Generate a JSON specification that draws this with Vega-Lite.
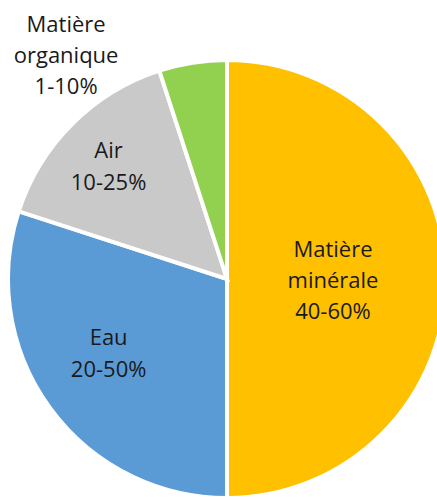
{
  "$schema": "https://vega.github.io/schema/vega-lite/v6.json",
  "width": 420,
  "height": 436,
  "autosize": {"type": "none"},
  "padding": {"left": 17, "top": 61, "right": 0, "bottom": 0},
  "background": "white",
  "config": {"view": {"stroke": null}},
  "data": {
    "values": [
      {"cat": "Matière minérale", "label": ["Matière", "minérale", "40-60%"], "v": 50, "o": 1},
      {"cat": "Eau", "label": ["Eau", "20-50%"], "v": 30, "o": 2},
      {"cat": "Air", "label": ["Air", "10-25%"], "v": 15, "o": 3},
      {"cat": "Matière organique", "label": ["Matière", "organique", "1-10%"], "v": 5, "o": 4}
    ]
  },
  "encoding": {
    "theta": {"field": "v", "type": "quantitative", "stack": true},
    "order": {"field": "o", "type": "quantitative"}
  },
  "layer": [
    {
      "mark": {"type": "arc", "outerRadius": 219, "stroke": "white", "strokeWidth": 4},
      "encoding": {
        "color": {
          "field": "cat",
          "type": "nominal",
          "scale": {
            "domain": ["Matière minérale", "Eau", "Air", "Matière organique"],
            "range": ["#FFC000", "#5B9BD5", "#C9C9C9", "#92D050"]
          },
          "legend": null
        }
      }
    },
    {
      "mark": {"type": "text", "radius": 106, "thetaOffset": 0.019, "dy": -31, "font": "Open Sans", "fontSize": 22, "lineHeight": 31, "fill": "#1a1a1a", "align": "center", "baseline": "middle"},
      "encoding": {"text": {"condition": {"test": "datum.o === 1", "field": "label"}, "value": ""}}
    },
    {
      "mark": {"type": "text", "radius": 140, "thetaOffset": 0.065, "dy": -16, "font": "Open Sans", "fontSize": 22, "lineHeight": 32, "fill": "#1a1a1a", "align": "center", "baseline": "middle"},
      "encoding": {"text": {"condition": {"test": "datum.o === 2", "field": "label"}, "value": ""}}
    },
    {
      "mark": {"type": "text", "radius": 163, "thetaOffset": -0.028, "dy": -16, "font": "Open Sans", "fontSize": 22, "lineHeight": 32, "fill": "#1a1a1a", "align": "center", "baseline": "middle"},
      "encoding": {"text": {"condition": {"test": "datum.o === 3", "field": "label"}, "value": ""}}
    },
    {
      "mark": {"type": "text", "radius": 275, "thetaOffset": -0.468, "dy": -31, "font": "Open Sans", "fontSize": 22, "lineHeight": 31, "fill": "#1a1a1a", "align": "center", "baseline": "middle"},
      "encoding": {"text": {"condition": {"test": "datum.o === 4", "field": "label"}, "value": ""}}
    }
  ]
}
